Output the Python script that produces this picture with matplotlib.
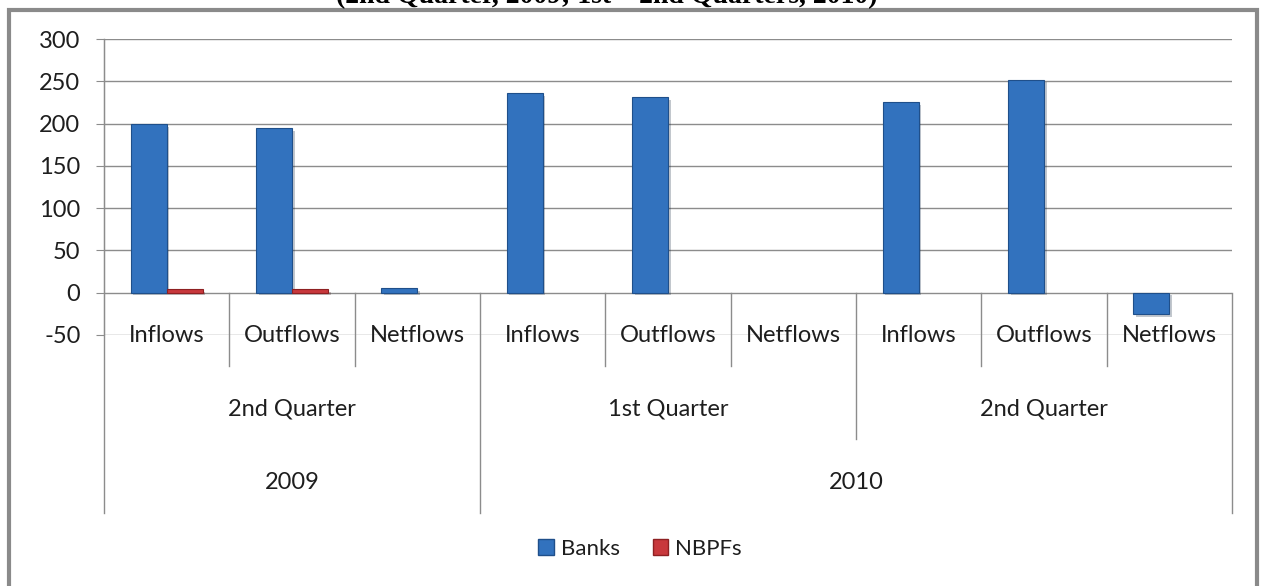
import matplotlib
matplotlib.use("Agg")
import matplotlib.pyplot as plt
from matplotlib.patches import Rectangle, Patch
import matplotlib.patheffects as pe
import numpy as np

plt.rcParams['font.family'] = ['Lato', 'DejaVu Sans']

flows = ['Inflows', 'Outflows', 'Netflows'] * 3
quarters = ['2nd Quarter', '1st Quarter', '2nd Quarter']
years = ['2009', '2010']
banks = [199, 195, 5, 236, 231, 0, 225, 252, -25]
nbpfs = [4, 4, 0, 0, 0, 0, 0, 0, 0]
yticks = [-50, 0, 50, 100, 150, 200, 250, 300]

BLUE = '#3272be'
RED = '#c8383c'
GRID = '#8c8c8c'
TXT = '#1e1e1e'

fig = plt.figure(figsize=(12.63, 5.86), dpi=100)
W, H = 1263, 586

# outer frame
fig.patches.append(Rectangle((9 / W, -0.1), (1257 - 9) / W, 1.1 - 10 / H,
                             transform=fig.transFigure, fill=False,
                             edgecolor='#8a8a8a', linewidth=3))
# title, cut off at the top like the source
fig.text(607 / W, 1 - 3 / H, '(2nd Quarter, 2009; 1st \u2013 2nd Quarters, 2010)',
         ha='center', va='baseline', fontsize=20, fontweight='bold',
         family='Liberation Serif')

ax = fig.add_axes([104 / W, 1 - 335 / H, (1232 - 104) / W, (335 - 39) / H])

x = np.arange(len(flows))
bw = 0.287
shadow = [pe.SimplePatchShadow(offset=(2, -2), alpha=0.25), pe.Normal()]
bb = ax.bar(x - bw / 2, banks, bw, color=BLUE, edgecolor='#1f4f8a',
            linewidth=[0.8 if v else 0 for v in banks], zorder=3, label='Banks')
nb = ax.bar(x + bw / 2, nbpfs, bw, color=RED, edgecolor='#8e2022',
            linewidth=[0.8 if v else 0 for v in nbpfs], zorder=3, label='NBPFs')
for bar, v in list(zip(bb, banks)) + list(zip(nb, nbpfs)):
    if v:
        bar.set_path_effects(shadow)
    else:
        bar.set_visible(False)

ax.set_xlim(-0.5, len(flows) - 0.5)
ax.set_ylim(-50, 300)
ax.set_yticks(yticks)
ax.set_yticklabels([str(v) for v in yticks], fontsize=17, color=TXT)
ax.yaxis.grid(True, color=GRID, linewidth=1.0)
ax.set_axisbelow(True)
ax.set_xticks([])
for s in ['top', 'right', 'bottom']:
    ax.spines[s].set_visible(False)
ax.spines['left'].set_color(GRID)
ax.tick_params(axis='y', length=6, color=GRID, pad=11)

# multi-level category axis
tr = ax.get_xaxis_transform()
zero = 50 / 350
ax.plot([-0.5, -0.5], [1, -0.601], transform=tr, color=GRID, lw=1, clip_on=False)
ax.plot([8.5, 8.5], [zero, -0.601], transform=tr, color=GRID, lw=1, clip_on=False)
for b in [0.5, 1.5, 3.5, 4.5, 6.5, 7.5]:
    ax.plot([b, b], [zero, -0.105], transform=tr, color=GRID, lw=1, clip_on=False)
ax.plot([5.5, 5.5], [zero, -0.351], transform=tr, color=GRID, lw=1, clip_on=False)
ax.plot([2.5, 2.5], [zero, -0.601], transform=tr, color=GRID, lw=1, clip_on=False)

for i, lab in enumerate(flows):
    ax.text(i, -0.003, lab, transform=tr, ha='center', va='center',
            fontsize=17, color=TXT)
for i, q in enumerate(quarters):
    ax.text(3 * i + 1, -0.25, q, transform=tr, ha='center', va='center',
            fontsize=17, color=TXT)
ax.text(1, -0.497, years[0], transform=tr, ha='center', va='center',
        fontsize=17, color=TXT)
ax.text(5.5, -0.497, years[1], transform=tr, ha='center', va='center',
        fontsize=17, color=TXT)

handles = [Patch(facecolor=BLUE, edgecolor='#1f4f8a'),
           Patch(facecolor=RED, edgecolor='#8e2022')]
fig.legend(handles, ['Banks', 'NBPFs'], loc='center',
           bbox_to_anchor=(640 / W, 1 - 549 / H), ncol=2, frameon=False,
           fontsize=16, handlelength=0.7, handleheight=0.7, handletextpad=0.3,
           columnspacing=1.5, labelcolor=TXT)

fig.savefig('out.png', dpi=100)
